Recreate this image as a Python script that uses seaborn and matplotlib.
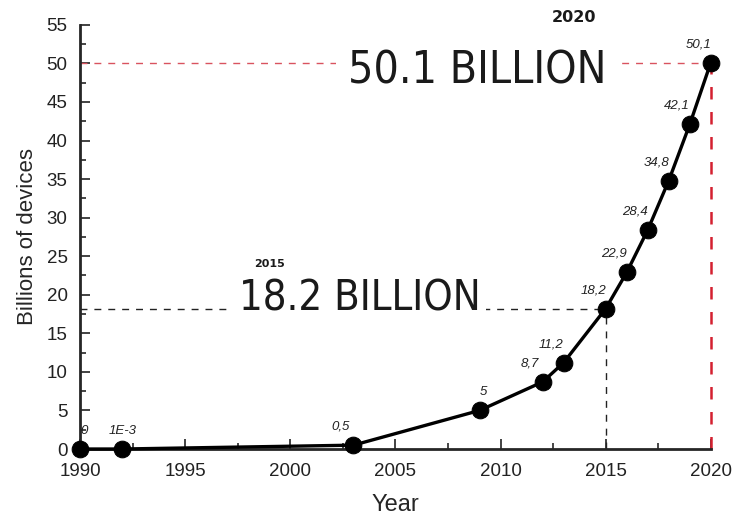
import matplotlib
matplotlib.use("Agg")
import matplotlib.pyplot as plt
import seaborn as sns
import pandas as pd
from matplotlib.ticker import MultipleLocator

years = [1990, 1992, 2003, 2009, 2012, 2013, 2015, 2016, 2017, 2018, 2019, 2020]
devices = [0.0, 0.001, 0.5, 5.0, 8.7, 11.2, 18.2, 22.9, 28.4, 34.8, 42.1, 50.1]
point_labels = ["0", "1E-3", "0,5", "5", "8,7", "11,2", "18,2", "22,9", "28,4", "34,8", "42,1", "50,1"]
x_ticks = [1990, 1995, 2000, 2005, 2010, 2015, 2020]
y_ticks = [0, 5, 10, 15, 20, 25, 30, 35, 40, 45, 50, 55]

df = pd.DataFrame({"Year": years, "Devices": devices})

sns.set_style("ticks")
plt.rcParams['font.family'] = ['Liberation Sans', 'DejaVu Sans']

fig = plt.figure(figsize=(7.49, 5.17), dpi=100)
ax = fig.add_axes([0.107, 0.1315, 0.842, 0.8205])

# reference lines
ax.plot([1990, 2015], [18.2, 18.2], color="#222222", lw=1, ls=(0, (5, 5)), zorder=1)
ax.plot([2015, 2015], [0, 18.2], color="#222222", lw=1, ls=(0, (5, 5)), zorder=1)
ax.plot([1990, 2020], [50.1, 50.1], color="#d9535f", lw=1, ls=(0, (5, 5)), zorder=1)
ax.plot([2020, 2020], [0, 50.1], color="#d42030", lw=1.8, ls=(0, (5, 5)), zorder=1)

sns.lineplot(data=df, x="Year", y="Devices", ax=ax, color="black", lw=2.4,
             marker="o", markersize=12, markeredgecolor="black", zorder=3)
for l in ax.lines:
    l.set_clip_on(False)

for x, y, t in zip(years, devices, point_labels):
    dx = -9
    if t == "0":
        dx = 3
    elif t == "1E-3":
        dx = 0
    elif t == "5":
        dx = 3
    ax.annotate(t, (x, y), xytext=(dx, 9), textcoords="offset points",
                ha="center", va="bottom", fontsize=9.5, style="italic",
                color="#222222", zorder=4)

big = dict(family=["DejaVu Sans"], stretch="condensed",
           color="#1a1a1a", ha="center", va="center", zorder=2)
ax.text(2008.9, 49.0, "50.1 BILLION", fontsize=32, **big,
        bbox=dict(facecolor="white", edgecolor="none", pad=9))
ax.text(2003.3, 19.5, "18.2 BILLION", fontsize=30, **big,
        bbox=dict(facecolor="white", edgecolor="none", pad=4))
ax.text(2013.5, 56.0, "2020", fontsize=11.5, fontweight="black", family=["DejaVu Sans"],
        ha="center", va="center", color="#1a1a1a", clip_on=False)
ax.text(1999.0, 24.0, "2015", fontsize=8, fontweight="black", family=["DejaVu Sans"],
        ha="center", va="center", color="#1a1a1a")

ax.set_xlim(1990, 2020)
ax.set_ylim(0, 55)
ax.set_xticks(x_ticks)
ax.set_yticks(y_ticks)
ax.xaxis.set_minor_locator(MultipleLocator(2.5))
ax.yaxis.set_minor_locator(MultipleLocator(2.5))
ax.tick_params(axis="both", which="major", direction="in", length=7, width=1.2,
               labelsize=13.5, colors="#222222")
ax.tick_params(axis="x", which="major", pad=10)
ax.tick_params(axis="y", which="major", pad=9)
ax.tick_params(axis="both", which="minor", direction="in", length=4, width=1.2)
for s in ["top", "right"]:
    ax.spines[s].set_visible(False)
for s in ["left", "bottom"]:
    ax.spines[s].set_linewidth(2)

ax.set_xlabel("Year", fontsize=17, labelpad=10)
ax.set_ylabel("Billions of devices", fontsize=16, labelpad=6)

fig.savefig("out.png", dpi=100)
